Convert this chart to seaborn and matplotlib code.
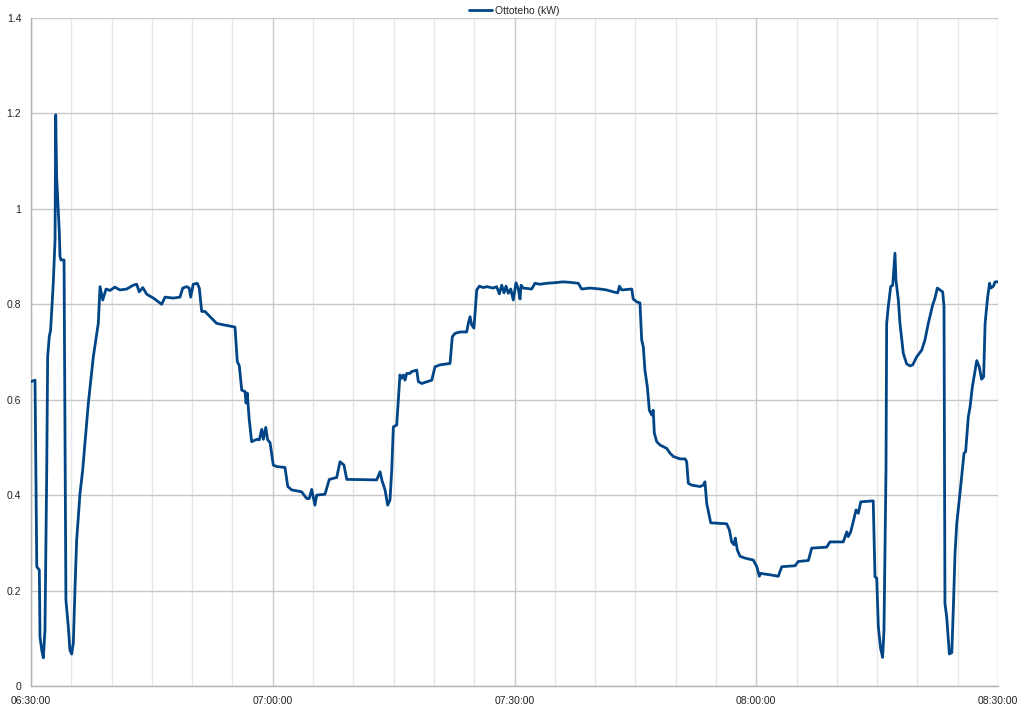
import pandas as pd
import matplotlib
matplotlib.use("Agg")
import matplotlib.pyplot as plt
import matplotlib.dates as mdates
from matplotlib.ticker import MultipleLocator, FuncFormatter
import seaborn as sns

# ================= data =================
SERIES_NAME = "Ottoteho (kW)"

TIMES = [
    "06:30:00", "06:30:30", "06:30:43", "06:31:02", "06:31:07", "06:31:20", "06:31:32", "06:31:44",
    "06:31:57", "06:32:04", "06:32:16", "06:32:26", "06:32:46", "06:32:59", "06:33:04", "06:33:11",
    "06:33:31", "06:33:36", "06:33:43", "06:34:06", "06:34:20", "06:34:38", "06:34:50", "06:35:03",
    "06:35:15", "06:35:28", "06:35:40", "06:36:05", "06:36:25", "06:37:07", "06:37:44", "06:38:21",
    "06:38:34", "06:38:54", "06:39:19", "06:39:48", "06:40:25", "06:41:02", "06:41:53", "06:42:41",
    "06:43:07", "06:43:26", "06:43:52", "06:44:22", "06:45:11", "06:46:13", "06:46:38", "06:47:40",
    "06:48:29", "06:48:50", "06:49:19", "06:49:38", "06:49:49", "06:50:08", "06:50:38", "06:50:53",
    "06:51:11", "06:51:35", "06:52:13", "06:53:02", "06:53:52", "06:55:06", "06:55:19", "06:55:36",
    "06:55:51", "06:56:09", "06:56:34", "06:56:41", "06:56:50", "06:57:05", "06:57:23", "06:58:01",
    "06:58:20", "06:58:38", "06:58:50", "06:59:08", "06:59:22", "06:59:40", "07:00:04", "07:00:29",
    "07:01:31", "07:01:52", "07:02:21", "07:03:35", "07:04:13", "07:04:32", "07:04:50", "07:05:14",
    "07:05:27", "07:06:29", "07:07:01", "07:07:56", "07:08:21", "07:08:50", "07:09:11", "07:12:54",
    "07:13:19", "07:13:34", "07:13:56", "07:14:16", "07:14:33", "07:14:46", "07:14:58", "07:15:23",
    "07:15:35", "07:15:47", "07:16:00", "07:16:12", "07:16:25", "07:16:37", "07:17:02", "07:17:14",
    "07:17:52", "07:18:04", "07:18:29", "07:19:44", "07:20:08", "07:20:45", "07:22:00", "07:22:17",
    "07:22:37", "07:23:14", "07:24:04", "07:24:16", "07:24:29", "07:24:41", "07:24:58", "07:25:19",
    "07:25:38", "07:26:08", "07:26:33", "07:27:22", "07:27:47", "07:28:07", "07:28:25", "07:28:42",
    "07:28:57", "07:29:14", "07:29:32", "07:29:51", "07:30:11", "07:30:28", "07:30:41", "07:30:49",
    "07:31:05", "07:32:08", "07:32:32", "07:33:10", "07:33:59", "07:34:49", "07:36:03", "07:36:53",
    "07:37:55", "07:38:20", "07:39:22", "07:40:37", "07:41:26", "07:42:16", "07:42:49", "07:43:01",
    "07:43:18", "07:44:33", "07:44:44", "07:45:10", "07:45:34", "07:45:47", "07:45:59", "07:46:11",
    "07:46:29", "07:46:44", "07:47:01", "07:47:13", "07:47:21", "07:47:39", "07:48:04", "07:48:53",
    "07:49:18", "07:49:43", "07:50:32", "07:51:10", "07:51:22", "07:51:34", "07:51:59", "07:53:01",
    "07:53:26", "07:53:38", "07:53:51", "07:54:21", "07:56:20", "07:56:40", "07:56:57", "07:57:14",
    "07:57:24", "07:57:39", "07:57:59", "07:58:36", "07:59:38", "08:00:04", "08:00:23", "08:00:33",
    "08:01:43", "08:02:44", "08:03:10", "08:04:49", "08:05:13", "08:06:28", "08:06:53", "08:08:44",
    "08:09:09", "08:10:48", "08:11:14", "08:11:25", "08:11:43", "08:12:02", "08:12:23", "08:12:40",
    "08:12:58", "08:14:31", "08:14:44", "08:14:57", "08:15:09", "08:15:26", "08:15:41", "08:15:51",
    "08:16:06", "08:16:11", "08:16:23", "08:16:41", "08:16:56", "08:17:13", "08:17:20", "08:17:38",
    "08:17:50", "08:18:15", "08:18:40", "08:19:05", "08:19:25", "08:19:55", "08:20:32", "08:20:56",
    "08:21:21", "08:21:54", "08:22:11", "08:22:28", "08:22:48", "08:23:08", "08:23:18", "08:23:25",
    "08:23:38", "08:23:58", "08:24:16", "08:24:27", "08:24:40", "08:24:53", "08:25:17", "08:25:47",
    "08:25:59", "08:26:19", "08:26:32", "08:26:49", "08:27:22", "08:27:40", "08:27:58", "08:28:13",
    "08:28:24", "08:28:42", "08:28:57", "08:29:07", "08:29:26", "08:29:38", "08:30:00",
]

POWER_KW = [
    0.638, 0.641, 0.250, 0.243, 0.103, 0.075, 0.059, 0.117,
    0.450, 0.690, 0.732, 0.746, 0.845, 0.935, 1.197, 1.067,
    0.950, 0.900, 0.893, 0.893, 0.180, 0.124, 0.075, 0.067,
    0.090, 0.208, 0.306, 0.404, 0.453, 0.593, 0.690, 0.760,
    0.837, 0.809, 0.832, 0.829, 0.836, 0.830, 0.832, 0.840,
    0.842, 0.826, 0.835, 0.821, 0.813, 0.800, 0.815, 0.813,
    0.815, 0.834, 0.837, 0.834, 0.815, 0.842, 0.844, 0.834,
    0.785, 0.785, 0.774, 0.760, 0.757, 0.753, 0.752, 0.680,
    0.671, 0.620, 0.617, 0.593, 0.614, 0.558, 0.512, 0.517,
    0.516, 0.538, 0.517, 0.542, 0.516, 0.510, 0.463, 0.460,
    0.458, 0.418, 0.411, 0.407, 0.393, 0.393, 0.412, 0.379,
    0.400, 0.402, 0.433, 0.437, 0.470, 0.463, 0.433, 0.432,
    0.449, 0.430, 0.411, 0.379, 0.390, 0.453, 0.543, 0.547,
    0.600, 0.652, 0.645, 0.652, 0.641, 0.655, 0.655, 0.659,
    0.662, 0.638, 0.634, 0.641, 0.669, 0.673, 0.676, 0.732,
    0.739, 0.742, 0.742, 0.760, 0.774, 0.757, 0.750, 0.830,
    0.838, 0.835, 0.837, 0.834, 0.837, 0.822, 0.840, 0.824,
    0.838, 0.823, 0.832, 0.809, 0.845, 0.832, 0.811, 0.840,
    0.834, 0.832, 0.844, 0.842, 0.844, 0.845, 0.847, 0.846,
    0.844, 0.832, 0.834, 0.832, 0.830, 0.826, 0.824, 0.838,
    0.830, 0.832, 0.811, 0.805, 0.803, 0.725, 0.711, 0.662,
    0.627, 0.578, 0.568, 0.578, 0.530, 0.512, 0.505, 0.498,
    0.488, 0.481, 0.476, 0.476, 0.470, 0.425, 0.421, 0.418,
    0.421, 0.428, 0.383, 0.342, 0.340, 0.327, 0.302, 0.296,
    0.310, 0.285, 0.272, 0.268, 0.264, 0.250, 0.230, 0.236,
    0.233, 0.230, 0.250, 0.252, 0.261, 0.263, 0.289, 0.291,
    0.302, 0.302, 0.323, 0.313, 0.323, 0.344, 0.369, 0.362,
    0.386, 0.388, 0.229, 0.226, 0.124, 0.079, 0.060, 0.117,
    0.453, 0.760, 0.795, 0.837, 0.840, 0.907, 0.851, 0.809,
    0.760, 0.697, 0.675, 0.671, 0.673, 0.690, 0.704, 0.725,
    0.760, 0.799, 0.813, 0.834, 0.830, 0.826, 0.795, 0.173,
    0.145, 0.067, 0.070, 0.159, 0.278, 0.341, 0.404, 0.488,
    0.491, 0.564, 0.585, 0.627, 0.682, 0.669, 0.643, 0.648,
    0.760, 0.813, 0.844, 0.834, 0.838, 0.847, 0.847,
]

LINE_COLOR = "#004586"
# ========================================

df = pd.DataFrame({
    "time": pd.to_datetime("2024-01-01 " + pd.Series(TIMES)),
    SERIES_NAME: POWER_KW,
})

sns.set_style("white")
plt.rcParams["font.family"] = ["Liberation Sans", "DejaVu Sans"]

fig = plt.figure(figsize=(10.24, 7.12), dpi=100)
ax = fig.add_axes([31 / 1024, 26 / 712, 967 / 1024, 668 / 712])

sns.lineplot(data=df, x="time", y=SERIES_NAME, ax=ax, color=LINE_COLOR,
             linewidth=2.0, label=SERIES_NAME, zorder=3)

t0 = pd.Timestamp("2024-01-01 06:30:00")
t1 = pd.Timestamp("2024-01-01 08:30:00")
ax.set_xlim(t0, t1)
ax.set_ylim(0, 1.4)

ax.xaxis.set_major_locator(mdates.MinuteLocator(byminute=[0, 30]))
ax.xaxis.set_minor_locator(mdates.MinuteLocator(byminute=range(0, 60, 5)))
ax.xaxis.set_major_formatter(mdates.DateFormatter("%H:%M:%S"))
ax.yaxis.set_major_locator(MultipleLocator(0.2))
ax.yaxis.set_major_formatter(FuncFormatter(lambda v, p: f"{v:g}"))

ax.grid(True, which="major", axis="both", color="#c8c8c8", linewidth=1.0)
ax.grid(True, which="minor", axis="x", color="#e6e6e6", linewidth=1.0)
ax.set_axisbelow(True)

for side in ["top", "right"]:
    ax.spines[side].set_visible(False)
for side in ["left", "bottom"]:
    ax.spines[side].set_color("#b3b3b3")
    ax.spines[side].set_linewidth(1.0)

ax.tick_params(axis="both", which="major", labelsize=7.5, labelcolor="#222222",
               color="#b3b3b3", length=4, width=1, pad=3)
ax.tick_params(axis="x", which="minor", length=0)
ax.set_xlabel("")
ax.set_ylabel("")

ax.legend(loc="lower center", bbox_to_anchor=(0.5, 1.0), frameon=False,
          fontsize=7.5, handlelength=2.2, handletextpad=0.3,
          borderaxespad=0.0, borderpad=0.2)

fig.savefig("out.png", dpi=100)
